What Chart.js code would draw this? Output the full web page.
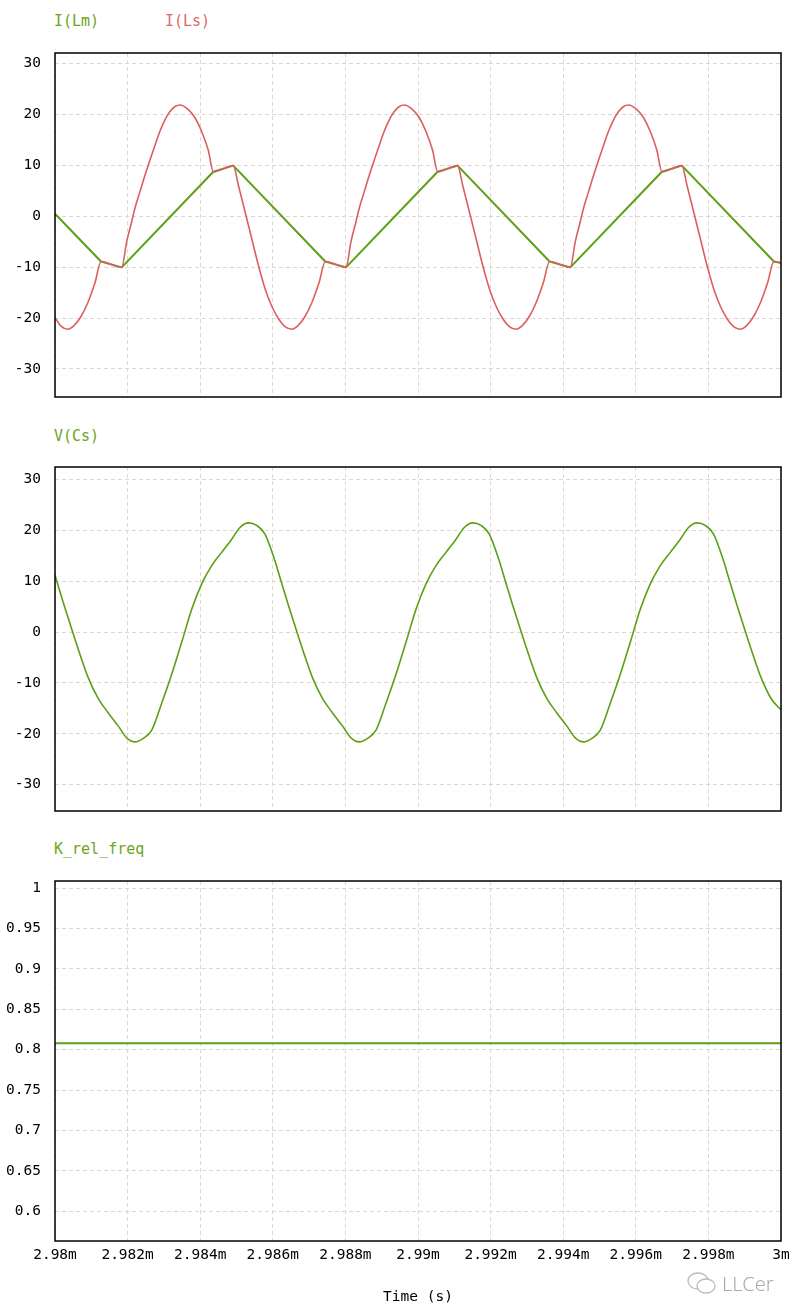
<!DOCTYPE html>
<html>
<head>
<meta charset="utf-8">
<script src="https://cdn.jsdelivr.net/npm/chart.js@4.4.1/dist/chart.umd.min.js"></script>
<style>
  body { margin: 0; background: #fff; width: 801px; height: 1316px; position: relative; overflow: hidden; font-family: "DejaVu Sans Mono", monospace; }
  canvas { position: absolute; left: 0; }
  .lab { position: absolute; font-size: 15px; line-height: 18px; white-space: pre; }
  .mark { position: absolute; left: 686px; top: 1270px; color: #aaa; font-family: "Noto Sans", sans-serif; font-size: 20px; font-weight: 300; }
</style>
</head>
<body>
<div class="lab" style="left:54px;top:12px;color:#6aa620">I(Lm)</div>
<div class="lab" style="left:165px;top:12px;color:#e06868">I(Ls)</div>
<div class="lab" style="left:54px;top:427px;color:#6aa620">V(Cs)</div>
<div class="lab" style="left:54px;top:840px;color:#6aa620">K_rel_freq</div>

<canvas id="c1" width="801" height="390" style="top:30px"></canvas>
<canvas id="c2" width="801" height="390" style="top:444px"></canvas>
<canvas id="c3" width="801" height="458" style="top:858px"></canvas>

<div class="mark"><svg width="32" height="24" viewBox="0 0 32 24" style="vertical-align:-4px;margin-right:4px"><ellipse cx="12" cy="10" rx="10" ry="8" fill="none" stroke="#bbb" stroke-width="1.3"/><ellipse cx="20" cy="15" rx="9" ry="7" fill="#fff" stroke="#bbb" stroke-width="1.3"/></svg>LLCer</div>

<script>
// time axis in ms (labels get an "m" suffix)
const xTicks = [2.98, 2.982, 2.984, 2.986, 2.988, 2.99, 2.992, 2.994, 2.996, 2.998, 3.0];
const iTicks = [-30, -20, -10, 0, 10, 20, 30];
const vTicks = [-30, -20, -10, 0, 10, 20, 30];
const kTicks = [0.6, 0.65, 0.7, 0.75, 0.8, 0.85, 0.9, 0.95, 1];

// I(Lm) - magnetising current, piecewise linear
const lmTime = [2.980000, 2.981267, 2.981837, 2.984361, 2.984912, 2.987446, 2.988016, 2.990540,
  2.991091, 2.993625, 2.994195, 2.996719, 2.997270, 2.999804, 3.000000];
const lmValue = [0.45, -8.9, -10.06, 8.7, 9.9, -8.9, -10.06, 8.7, 9.9, -8.9, -10.06, 8.7, 9.9, -8.9, -9.2];

// I(Ls) - resonant current
const lsTime = [
  2.980000, 2.980165, 2.980350, 2.980523, 2.980716, 2.980909, 2.981102, 2.981267,
  2.981837, 2.981975, 2.982113, 2.982204, 2.982341, 2.982479, 2.982755, 2.982893, 2.983030, 2.983168,
  2.983306, 2.983444, 2.983672, 2.983857, 2.984041, 2.984223, 2.984361,
  2.984912, 2.985050, 2.985234, 2.985419, 2.985601, 2.985785, 2.985978,
  2.986171, 2.986336, 2.986521, 2.986694, 2.986887, 2.987080, 2.987273, 2.987446,
  2.988016, 2.988154, 2.988292, 2.988383, 2.988520, 2.988658, 2.988934, 2.989072, 2.989209, 2.989347,
  2.989485, 2.989623, 2.989851, 2.990036, 2.990220, 2.990402, 2.990540,
  2.991091, 2.991229, 2.991413, 2.991598, 2.991780, 2.991964, 2.992157,
  2.992350, 2.992515, 2.992700, 2.992873, 2.993066, 2.993259, 2.993452, 2.993625,
  2.994195, 2.994333, 2.994471, 2.994562, 2.994699, 2.994837, 2.995113, 2.995251, 2.995388, 2.995526,
  2.995664, 2.995802, 2.996030, 2.996215, 2.996399, 2.996581, 2.996719,
  2.997270, 2.997408, 2.997592, 2.997777, 2.997959, 2.998143, 2.998336,
  2.998529, 2.998694, 2.998879, 2.999052, 2.999245, 2.999438, 2.999631, 2.999804,
  3.000000];
const lsValue = [
  -19.9, -21.6, -22.2, -21.5, -19.7, -16.9, -13.1, -8.9,
  -10.06, -5.0, -1.1, 1.6, 4.8, 8.0, 13.9, 16.7, 18.9, 20.5,
  21.5, 21.8, 20.9, 19.3, 16.6, 12.9, 8.7,
  9.9, 6.1, 0.9, -4.4, -9.6, -14.2, -17.8,
  -20.3, -21.7, -22.2, -21.5, -19.7, -16.9, -13.1, -8.9,
  -10.06, -5.0, -1.1, 1.6, 4.8, 8.0, 13.9, 16.7, 18.9, 20.5,
  21.5, 21.8, 20.9, 19.3, 16.6, 12.9, 8.7,
  9.9, 6.1, 0.9, -4.4, -9.6, -14.2, -17.8,
  -20.3, -21.7, -22.2, -21.5, -19.7, -16.9, -13.1, -8.9,
  -10.06, -5.0, -1.1, 1.6, 4.8, 8.0, 13.9, 16.7, 18.9, 20.5,
  21.5, 21.8, 20.9, 19.3, 16.6, 12.9, 8.7,
  9.9, 6.1, 0.9, -4.4, -9.6, -14.2, -17.8,
  -20.3, -21.7, -22.2, -21.5, -19.7, -16.9, -13.1, -8.9,
  -9.2];

// V(Cs) - resonant capacitor voltage
const csTime = [
  2.980000, 2.980229, 2.980460, 2.980689, 2.980917, 2.981193, 2.981468, 2.981744, 2.981975, 2.982204,
  2.982433, 2.982664, 2.982939, 2.983215, 2.983490, 2.983766, 2.984041, 2.984317, 2.984592, 2.984868,
  2.985096, 2.985325, 2.985557, 2.985785, 2.986061,
  2.986179, 2.986408, 2.986639, 2.986868, 2.987096, 2.987372, 2.987647, 2.987923, 2.988154, 2.988383,
  2.988612, 2.988843, 2.989118, 2.989394, 2.989669, 2.989945, 2.990220, 2.990496, 2.990771, 2.991047,
  2.991275, 2.991504, 2.991736, 2.991964, 2.992240,
  2.992358, 2.992587, 2.992818, 2.993047, 2.993275, 2.993551, 2.993826, 2.994102, 2.994333, 2.994562,
  2.994791, 2.995022, 2.995297, 2.995573, 2.995848, 2.996124, 2.996399, 2.996675, 2.996950, 2.997226,
  2.997454, 2.997683, 2.997915, 2.998143, 2.998419,
  2.998537, 2.998766, 2.998997, 2.999226, 2.999454, 2.999730, 3.000000];
const csValue = [
  11.2, 5.8, 0.6, -4.4, -9.0, -13.1, -15.9, -18.5, -20.8, -21.6,
  -20.9, -19.3, -14.0, -8.3, -2.0, 4.5, 9.5, 13.1, 15.7, 18.3,
  20.6, 21.5, 21.0, 19.3, 14.0,
  11.2, 5.8, 0.6, -4.4, -9.0, -13.1, -15.9, -18.5, -20.8, -21.6,
  -20.9, -19.3, -14.0, -8.3, -2.0, 4.5, 9.5, 13.1, 15.7, 18.3,
  20.6, 21.5, 21.0, 19.3, 14.0,
  11.2, 5.8, 0.6, -4.4, -9.0, -13.1, -15.9, -18.5, -20.8, -21.6,
  -20.9, -19.3, -14.0, -8.3, -2.0, 4.5, 9.5, 13.1, 15.7, 18.3,
  20.6, 21.5, 21.0, 19.3, 14.0,
  11.2, 5.8, 0.6, -4.4, -9.0, -13.1, -15.3];

// K_rel_freq
const kTime = [2.98, 3.0];
const kValue = [0.808, 0.808];

const GREEN = '#5c9f16';
const RED = '#dc5f5f';

Chart.defaults.font.family = '"DejaVu Sans Mono", monospace';
Chart.defaults.font.size = 14.5;
Chart.defaults.color = '#000';

const framePlugin = {
  id: 'frame',
  afterDraw(chart) {
    const { ctx, chartArea: a } = chart;
    ctx.save();
    ctx.strokeStyle = '#000';
    ctx.lineWidth = 1.5;
    ctx.strokeRect(a.left, a.top, a.right - a.left, a.bottom - a.top);
    ctx.restore();
  }
};

function pts(xs, ys) {
  return xs.map((x, i) => ({ x: x, y: ys[i] }));
}

// tick label padding (14) + half a label reserve ~23px above/below the plot
function makeChart(id, datasets, yMin, yMax, yTicks, showX) {
  return new Chart(document.getElementById(id), {
    type: 'line',
    data: { datasets },
    plugins: [framePlugin],
    options: {
      responsive: false,
      animation: false,
      devicePixelRatio: 1,
      layout: { padding: { top: 23, bottom: showX ? 0 : 23, left: 0, right: 20 } },
      plugins: { legend: { display: false }, tooltip: { enabled: false } },
      elements: { point: { radius: 0 }, line: { borderJoinStyle: 'round' } },
      scales: {
        x: {
          type: 'linear', min: 2.98, max: 3.0,
          afterBuildTicks: s => { s.ticks = xTicks.map(v => ({ value: v })); },
          afterFit: s => { s.height = showX ? 75 : 0; },
          grid: { color: '#dcdcc8', drawTicks: false },
          border: { display: false, dash: [4, 3] },
          ticks: {
            display: showX, padding: 6, maxRotation: 0, autoSkip: false,
            callback: v => +(+v).toFixed(3) + 'm'
          },
          title: { display: showX, text: 'Time (s)', color: '#000', padding: { top: 0, bottom: 10 } }
        },
        y: {
          type: 'linear', min: yMin, max: yMax,
          afterBuildTicks: s => { s.ticks = yTicks.map(v => ({ value: v })); },
          afterFit: s => { s.width = 55; },
          grid: { color: '#d9d9d4', drawTicks: false },
          border: { display: false, dash: [4, 3] },
          ticks: { padding: 14, autoSkip: false, callback: v => String(+(+v).toFixed(2)) }
        }
      }
    }
  });
}

makeChart('c1', [
  { label: 'I(Ls)', data: pts(lsTime, lsValue), borderColor: RED, borderWidth: 1.6, cubicInterpolationMode: 'monotone' },
  { label: 'I(Lm)', data: pts(lmTime, lmValue), borderColor: GREEN, borderWidth: 2, tension: 0 }
], -35.5, 32, iTicks, false);

makeChart('c2', [
  { label: 'V(Cs)', data: pts(csTime, csValue), borderColor: GREEN, borderWidth: 1.6, cubicInterpolationMode: 'monotone' }
], -35.2, 32.5, vTicks, false);

makeChart('c3', [
  { label: 'K_rel_freq', data: pts(kTime, kValue), borderColor: GREEN, borderWidth: 2, tension: 0 }
], 0.563, 1.009, kTicks, true);
</script>
</body>
</html>
